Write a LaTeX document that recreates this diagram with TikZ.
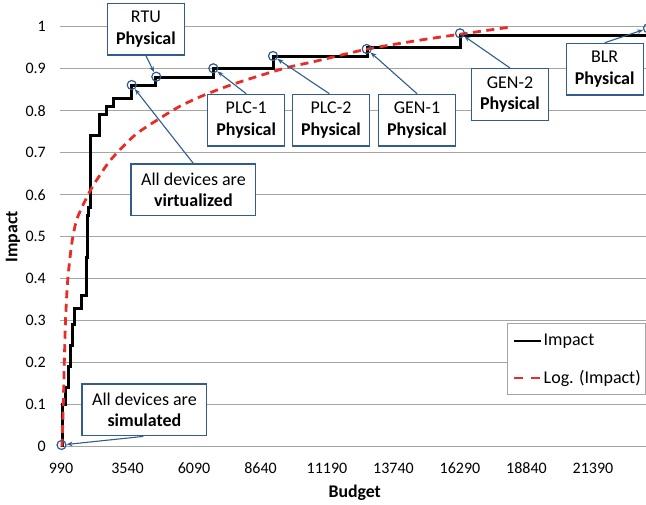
\documentclass[tikz,border=0pt]{standalone}
\usepackage{fontspec}
\setmainfont{Carlito}
\usetikzlibrary{arrows.meta}
\definecolor{callblue}{RGB}{50,92,140}
\definecolor{gridgray}{RGB}{165,165,165}
\definecolor{trendred}{RGB}{232,45,40}
\begin{document}
\begin{tikzpicture}[x=1pt,y=-1pt,
  callout/.style={draw=callblue, line width=1.3pt, fill=white, align=center, inner sep=0pt, minimum height=51.7pt, font=\fontsize{18}{21.5}\selectfont},
  smallbox/.style={callout, minimum width=77pt},
  bigbox/.style={callout, minimum width=124.7pt},
  ring/.style={circle, draw=callblue, line width=1.2pt, minimum size=9pt, inner sep=0pt},
  callarrow/.style={draw=callblue, line width=1.1pt, -{Stealth[length=6pt,width=4.5pt]}},
  gridline/.style={draw=gridgray, line width=1.2pt},
  ticklabel/.style={font=\fontsize{16}{19}\selectfont, inner sep=0pt},
  axistitle/.style={font=\fontsize{17.8}{21}\selectfont\bfseries, inner sep=0pt},
  impactline/.style={draw=black, line width=3pt},
  logline/.style={draw=trendred, line width=2.8pt, dash pattern=on 8pt off 5.5pt},
  legendtext/.style={font=\fontsize{18}{21}\selectfont, inner sep=0pt, anchor=west}]
\useasboundingbox (0,0) rectangle (646,505);
\fill[white] (0,0) rectangle (646,505);
% gridlines
\foreach \i in {0,...,10} \draw[gridline] (60,{446.7-42*\i}) -- (646,{446.7-42*\i});
% y tick labels
\foreach \i/\t in {0/0,1/0.1,2/0.2,3/0.3,4/0.4,5/0.5,6/0.6,7/0.7,8/0.8,9/0.9,10/1}
  \node[ticklabel, anchor=east] (yt\i) at (46,{446.7-42*\i}) {\t};
% x tick labels
\foreach \i/\t in {0/990,1/3540,2/6090,3/8640,4/11190,5/13740,6/16290,7/18840,8/21390}
  \node[ticklabel] (xt\i) at ({61+66.5*\i},468.5) {\t};
% axis titles
\node[axistitle, rotate=90] (ytitle) at (13,236.7) {Impact};
\node[axistitle] (xtitle) at (354.7,493) {Budget};
% data
\begin{scope}[shift={(0,446.7)}, y={(0pt,420pt)}]
\draw[impactline] (62.5,0) |- (65,0.10) |- (68,0.14) |- (70,0.19) |- (72,0.24) |- (74,0.29) |- (81,0.33) |- (86,0.36) |- (87,0.45) |- (88.5,0.55) |- (90,0.57) |- (99.5,0.74) |- (106,0.79) |- (113,0.81) |- (131.5,0.83) |- (155.5,0.86) |- (213,0.88) |- (273,0.90) |- (367,0.93) |- (460,0.95) |- (646,0.98);
\draw[logline] plot[smooth, tension=0.5] coordinates {(62,0) (63.3,0.1) (64.3,0.2) (65.5,0.3) (67.5,0.39) (70,0.45) (72.5,0.495) (76,0.535) (80,0.56) (85,0.585) (91.5,0.615) (100,0.647) (110,0.681) (122,0.712) (137,0.746) (160,0.782) (178,0.808) (200,0.833) (233,0.863) (283,0.9) (316,0.918) (366,0.946) (420,0.968) (460,0.982) (513,1.0)};
\end{scope}
% circles
\node[ring] (csim) at (61.5,445) {};
\node[ring] (cvirt) at (131.7,85) {};
\node[ring] (crtu) at (156.3,76.7) {};
\node[ring] (cplca) at (213.3,68.3) {};
\node[ring] (cplcb) at (273,56) {};
\node[ring] (cgena) at (366.7,49) {};
\node[ring] (cgenb) at (460,33.3) {};
\node[ring] (cblr) at (648,28.3) {};
% callout boxes
\node[smallbox] (rtu) at (145.9,29.2) {RTU\\\textbf{Physical}};
\node[smallbox] (plca) at (246.2,120.2) {PLC-1\\\textbf{Physical}};
\node[smallbox] (plcb) at (331,120.2) {PLC-2\\\textbf{Physical}};
\node[smallbox] (gena) at (417,120.2) {GEN-1\\\textbf{Physical}};
\node[smallbox] (genb) at (510,94.5) {GEN-2\\\textbf{Physical}};
\node[smallbox] (blr) at (604.7,69.2) {BLR\\\textbf{Physical}};
\node[bigbox] (virt) at (193.4,190) {All devices are\\\textbf{virtualized}};
\node[bigbox] (sim) at (144.4,409.9) {All devices are\\\textbf{simulated}};
% arrows
\draw[callarrow] (rtu.south) -- (crtu);
\draw[callarrow] (plca.north) -- (cplca);
\draw[callarrow] ([xshift=-1.7pt]plcb.north) -- (cplcb);
\draw[callarrow] (gena.north) -- (cgena);
\draw[callarrow] (genb.north) -- (cgenb);
\draw[callarrow] (blr.north) -- (cblr);
\draw[callarrow] (virt.north) -- (cvirt);
\draw[callarrow] ([xshift=-1pt]sim.south) -- (csim);
% legend
\node[draw=gridgray, line width=1pt, fill=white, minimum width=137.5pt, minimum height=71pt, inner sep=0pt] (legend) at (576.7,359.5) {};
\draw[impactline, line width=2.6pt] (514,341) -- (541,341);
\draw[trendred, line width=2.6pt, dash pattern=on 8.7pt off 8.3pt] (514,378) -- (540,378);
\node[legendtext] (legimp) at (543.5,341) {Impact};
\node[legendtext] (leglog) at (543.5,378) {Log. (Impact)};
\end{tikzpicture}
\end{document}
